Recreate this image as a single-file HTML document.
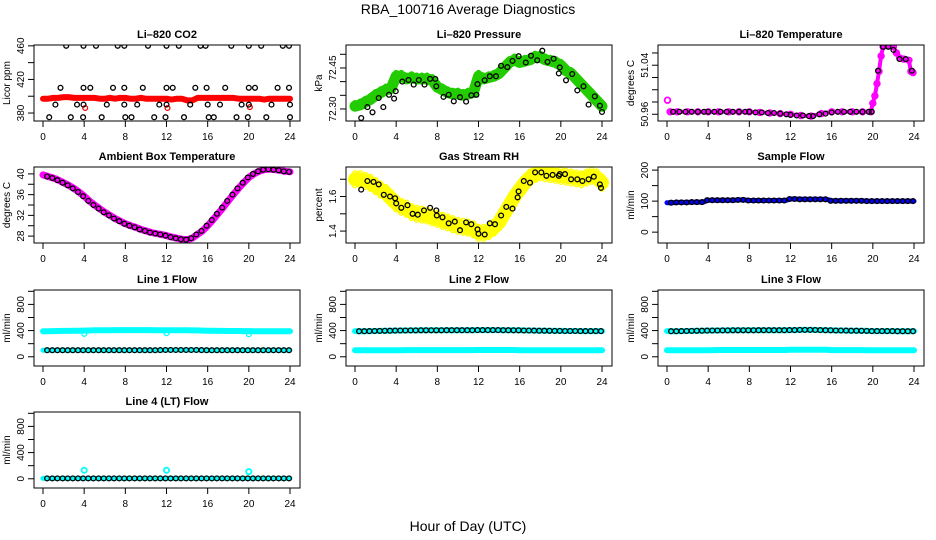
<!DOCTYPE html>
<html><head><meta charset="utf-8"><style>
html,body{margin:0;padding:0;background:#fff;}
svg{display:block;font-family:"Liberation Sans",sans-serif;}
</style></head><body>
<svg id="fig" width="936" height="540" viewBox="0 0 936 540">
<text x="468" y="14" font-size="14" text-anchor="middle">RBA_100716  Average Diagnostics</text>
<text x="468" y="531" font-size="14" text-anchor="middle">Hour of Day (UTC)</text>
</svg>
<script>
// ---- data ----
const halfHours = [0,0.5,1,1.5,2,2.5,3,3.5,4,4.5,5,5.5,6,6.5,7,7.5,8,8.5,9,9.5,10,10.5,11,11.5,12,12.5,13,13.5,14,14.5,15,15.5,16,16.5,17,17.5,18,18.5,19,19.5,20,20.5,21,21.5,22,22.5,23,23.5,24];
const hours = [0,1,2,3,4,5,6,7,8,9,10,11,12,13,14,15,16,17,18,19,20,21,22,23,24];
const xTicks = [0,4,8,12,16,20,24];

const co2Red = [397,397,398,398,399,399,398,398,398,398,398,397,397,398,397,398,398,397,397,398,397,397,397,397,397,396,397,397,395,395,398,398,398,398,398,398,398,398,397,397,397,397,397,396,397,397,397,397,397];
const co2BlackX = [2.25,3.94,5.15,7.26,7.9,10.2,12.0,13.2,15.3,15.8,18.3,20.0,21.2,23.3,23.9, 1.7,3.94,4.6,6.8,7.9,9.7,12.0,12.6,14.8,15.9,17.7,20.0,20.6,22.8,23.9, 1.2,3.3,3.94,6.2,7.9,9.15,11.3,12.0,14.3,16.0,17.2,19.3,20.0,22.2,24, 0.6,2.7,3.9,5.7,8.0,8.6,10.8,11.9,13.7,16.1,16.6,18.8,19.9,21.7,24];
const co2BlackY = [460,460,460,460,460,460,460,460,460,460,460,460,460,460,460, 410,410,410,410,410,410,410,410,410,410,410,410,410,410,410, 390,390,390,390,390,390,390,390,390,390,390,390,390,390,390, 375,375,375,375,375,375,375,375,375,375,375,375,375,375,375];

const presGreen = [72.31,72.315,72.325,72.335,72.35,72.36,72.37,72.375,72.42,72.42,72.41,72.415,72.41,72.41,72.41,72.405,72.38,72.37,72.36,72.355,72.355,72.35,72.355,72.36,72.42,72.41,72.415,72.42,72.43,72.45,72.47,72.48,72.47,72.475,72.48,72.49,72.49,72.48,72.475,72.47,72.46,72.44,72.43,72.41,72.39,72.37,72.35,72.33,72.31];
const presBlackX = [0.6,1.2,1.7,2.3,2.75,3.3,3.8,3.95,4.6,5.2,5.7,6.2,6.75,7.3,7.8,7.9,8.6,9.1,9.6,10.2,10.8,11.3,11.8,11.9,12.6,13.1,13.7,14.2,14.8,15.3,15.9,16.6,17.1,17.7,18.2,18.7,19.3,19.8,19.9,20.5,21.1,21.6,22.2,22.7,23.3,23.8,24];
const presBlackY = [72.267,72.307,72.288,72.34,72.307,72.352,72.338,72.365,72.40,72.406,72.389,72.406,72.389,72.41,72.41,72.383,72.344,72.352,72.328,72.343,72.327,72.35,72.352,72.391,72.405,72.42,72.42,72.458,72.453,72.476,72.493,72.47,72.495,72.478,72.513,72.472,72.484,72.43,72.452,72.405,72.428,72.368,72.383,72.316,72.346,72.312,72.289];

const tempX = [0.05,0.3,1,2,3,4,5,6,7,8,9,10,11,12,13,14,15,16,17,18,19,19.8,20,20.2,20.4,20.6,20.8,21,21.5,22,22.3,22.6,23,23.5,23.7,23.9];
const tempY = [50.983,50.964,50.964,50.964,50.964,50.964,50.964,50.964,50.964,50.964,50.963,50.962,50.961,50.960,50.958,50.957,50.961,50.964,50.964,50.964,50.964,50.964,50.978,50.99,51.01,51.03,51.055,51.07,51.072,51.07,51.06,51.052,51.05,51.048,51.03,51.028];
const tempBlackX = [0.6,1.2,1.8,2.4,3,3.6,4,4.6,5.2,5.8,6.4,7,7.6,8,8.6,9.2,9.8,10.4,11,11.6,12,12.6,13.2,13.8,14.2,14.8,15.4,16,16.6,17.2,17.8,18.4,19,19.6,19.9,20.5,21,21.5,22,22.6,23.2,23.8];
const tempBlackY = [50.964,50.964,50.964,50.964,50.964,50.964,50.964,50.964,50.964,50.964,50.964,50.964,50.964,50.964,50.963,50.963,50.962,50.962,50.961,50.96,50.959,50.958,50.958,50.957,50.957,50.96,50.961,50.963,50.964,50.964,50.964,50.964,50.964,50.964,50.964,51.031,51.07,51.07,51.065,51.05,51.05,51.031];

const ambient = [39.8,39.5,39.2,38.8,38.3,37.8,37.2,36.5,35.7,34.8,34.0,33.3,32.6,32.0,31.4,30.9,30.4,30.0,29.7,29.3,29.0,28.7,28.5,28.3,28.1,27.8,27.6,27.4,27.3,27.6,28.3,29.0,30.0,31.1,32.3,33.5,34.8,36.0,37.2,38.3,39.3,40.0,40.5,40.8,40.9,40.8,40.7,40.5,40.4];

const rhYellow = [1.70,1.70,1.69,1.68,1.66,1.64,1.62,1.59,1.56,1.54,1.53,1.51,1.50,1.495,1.49,1.48,1.47,1.46,1.45,1.44,1.43,1.425,1.42,1.41,1.39,1.39,1.40,1.42,1.45,1.50,1.55,1.60,1.64,1.68,1.71,1.73,1.74,1.735,1.73,1.725,1.72,1.715,1.71,1.705,1.70,1.71,1.72,1.71,1.68];
const rhBlackX = [0.6,1.2,1.8,2.3,2.8,3.4,3.9,4,4.5,5.1,5.6,6.1,6.7,7.3,7.9,7.95,8.5,9.1,9.7,10.2,10.8,11.3,11.9,12.0,12.6,13.1,13.6,14.2,14.7,15.3,15.8,15.9,16.4,17.0,17.5,18.1,18.6,19.2,19.8,19.9,20.4,21.0,21.6,22.1,22.7,23.2,23.8,23.9];
const rhBlackY = [1.64,1.69,1.685,1.67,1.61,1.60,1.59,1.56,1.535,1.55,1.50,1.495,1.52,1.535,1.52,1.49,1.48,1.445,1.455,1.405,1.45,1.44,1.41,1.385,1.38,1.445,1.44,1.49,1.54,1.53,1.595,1.63,1.69,1.68,1.74,1.74,1.72,1.725,1.72,1.73,1.73,1.70,1.70,1.69,1.70,1.715,1.67,1.65];

const sampleBlue = [95,95,96,96,96,97,97,97,103,103,103,103,103,103,104,104,102,102,102,102,102,102,102,102,107,107,106,106,106,106,106,106,101,101,101,101,101,101,101,100,100,100,100,100,100,100,100,100,100];

const line1Cyan = [390,390,392,393,395,395,398,398,400,402,404,404,405,406,407,407,408,408,408,408,408,408,406,405,405,405,405,404,404,403,403,400,398,396,395,395,394,394,393,392,392,391,391,390,390,390,390,390,390];
const line1Low = [100,100,100,100,100,100,100,100,100,100,100,100,100,100,101,101,101,101,101,101,101,101,101,102,104,104,104,104,103,103,103,102,101,101,101,101,101,101,101,100,100,100,100,100,100,100,100,100,100];
const line2High = [392,390,390,392,393,395,396,398,400,402,402,403,403,404,404,404,405,405,406,406,406,406,406,406,408,408,408,407,407,406,406,405,404,402,401,400,399,398,396,395,395,394,393,393,392,392,392,392,392];
const line2Low = [100,100,100,100,100,100,100,100,100,100,102,102,102,102,102,102,102,102,102,102,102,102,102,102,104,104,104,104,104,104,104,104,101,101,101,101,101,101,101,101,101,101,101,100,100,100,100,100,100];
const line3High = [392,390,390,392,393,395,396,398,400,402,402,403,403,404,404,404,405,405,406,406,406,406,406,406,408,408,410,410,410,409,408,406,404,402,401,400,399,398,396,395,392,392,392,392,392,391,391,391,391];
const line3Low = [100,100,100,100,100,100,100,100,100,102,103,103,103,103,103,103,103,103,103,103,103,103,103,103,106,106,107,107,107,107,106,106,102,102,102,102,102,102,102,101,101,101,101,101,101,100,100,100,100];
const line4Flow = [5,5,5,5,5,5,5,5,5,5,5,5,5,5,5,5,5,5,5,5,5,5,5,5,5,5,5,5,5,5,5,5,5,5,5,5,5,5,5,5,5,5,5,5,5,5,5,5,5];
const line4SpikeX = [4,12,20];
const line4SpikeY = [130,130,110];

// ---- layout ----
const NS = 'http://www.w3.org/2000/svg';
const svg = document.getElementById('fig');
const colLeft = [34,346,658];
const rowTop = [45,167,290,412];
const BW = 266, BH = 76;

function mk(tag, attrs, parent){
  const e = document.createElementNS(NS, tag);
  for (const k in attrs) e.setAttribute(k, attrs[k]);
  (parent||svg).appendChild(e);
  return e;
}

function panel(opt){
  const L = colLeft[opt.col], T = rowTop[opt.row];
  const g = mk('g', {});
  
  
  const xs = h => L + 9 + h/24*247;
  const ys = v => T + BH - (v - opt.ylim[0])/(opt.ylim[1]-opt.ylim[0])*BH;
  const clip = mk('clipPath', {id:'c'+opt.name}, g);
  mk('rect', {x:L, y:T, width:BW, height:BH}, clip);
  const plot = mk('g', {'clip-path':'url(#c'+opt.name+')'}, g);
  
  
  opt.draw(plot, xs, ys);
  const box = mk('rect', {x:L, y:T, width:BW, height:BH, fill:'none', stroke:'#000', 'stroke-width':1}, g);
  
  
  const title = mk('text', {x:L+BW/2, y:T-7, 'font-size':11, 'font-weight':'bold', 'text-anchor':'middle'}, g);
  title.textContent = opt.title;
  
  
  // x ticks
  xTicks.forEach(t => {
    mk('line', {x1:xs(t), x2:xs(t), y1:T+BH, y2:T+BH+6, stroke:'#000'}, g);
    const lb = mk('text', {x:xs(t), y:T+BH+19, 'font-size':10, 'text-anchor':'middle'}, g);
    lb.textContent = String(t);
    
    
  });
  // y ticks
  opt.yticks.forEach(v => {
    mk('line', {x1:L-6, x2:L, y1:ys(v), y2:ys(v), stroke:'#000'}, g);
  });
  opt.ylabels.forEach(v => {
    const lb = mk('text', {x:0, y:0, 'font-size':10, 'text-anchor':'middle', transform:`translate(${L-10},${ys(v)}) rotate(-90)`}, g);
    lb.textContent = opt.fmt ? opt.fmt(v) : String(v);
    
    
  });
  const yl = mk('text', {x:0, y:0, 'font-size':10, 'text-anchor':'middle', transform:`translate(${L-24},${T+BH/2}) rotate(-90)`}, g);
  yl.textContent = opt.ylab;
  
  
}

function band(parent, xsArr, ysArr, xs, ys, color, w){
  const pts = xsArr.map((x,i)=>xs(x).toFixed(1)+','+ys(ysArr[i]).toFixed(1)).join(' ');
  const pl = mk('polyline', {points:pts, fill:'none', stroke:color, 'stroke-width':w, 'stroke-linejoin':'round', 'stroke-linecap':'round'}, parent);
  
  
}
function circles(parent, xsArr, ysArr, xs, ys, color, r, sw){
  xsArr.forEach((x,i)=>{
    const c = mk('circle', {cx:xs(x).toFixed(1), cy:ys(ysArr[i]).toFixed(1), r:r||2.4, fill:'none', stroke:color, 'stroke-width':sw||1.3}, parent);
    
    
  });
}
const step = (a,n)=>a.filter((_,i)=>i%n===0);
const blackX = halfHours.slice(1).map(h=>h-0.1);

panel({name:'co2-panel', col:0,row:0,title:'Li\u2013820 CO2', ylab:'Licor ppm', ylim:[370.5,461], yticks:[380,400,420,440,460], ylabels:[380,420,460],
  draw:(p,xs,ys)=>{ band(p,halfHours,co2Red,xs,ys,'#ff0000',6); circles(p,[4.1,12.1,20.1],[386,386,387],xs,ys,'#ff0000');
    circles(p,co2BlackX,co2BlackY,xs,ys,'#000'); }});
panel({name:'pressure-panel', col:1,row:0,title:'Li\u2013820 Pressure', ylab:'kPa', ylim:[72.256,72.534], yticks:[72.30,72.35,72.40,72.45,72.50], ylabels:[72.30,72.45], fmt:v=>v.toFixed(2),
  draw:(p,xs,ys)=>{ band(p,halfHours,presGreen,xs,ys,'#22cc00',11); circles(p,halfHours,presGreen.map(v=>v+0.012),xs,ys,'#22cc00');
    circles(p,presBlackX,presBlackY,xs,ys,'#000'); }});
panel({name:'li820-temperature-panel', col:2,row:0,title:'Li\u2013820 Temperature', ylab:'degrees C', ylim:[50.949,51.073], yticks:[50.96,50.98,51.00,51.02,51.04,51.06], ylabels:[50.96,51.04], fmt:v=>v.toFixed(2),
  draw:(p,xs,ys)=>{ band(p,tempX.slice(1),tempY.slice(1),xs,ys,'#ff00ff',4); circles(p,tempX,tempY,xs,ys,'#ff00ff',2.8,1.8);
    circles(p,tempBlackX,tempBlackY,xs,ys,'#000'); }});
panel({name:'ambient-temperature-panel', col:0,row:1,title:'Ambient Box Temperature', ylab:'degrees C', ylim:[26.67,41.33], yticks:[28,30,32,34,36,38,40], ylabels:[28,32,36,40],
  draw:(p,xs,ys)=>{ band(p,halfHours,ambient,xs,ys,'#ff00ff',7); circles(p,blackX,ambient.slice(1),xs,ys,'#000'); }});
panel({name:'rh-panel', col:1,row:1,title:'Gas Stream RH', ylab:'percent', ylim:[1.331,1.771], yticks:[1.4,1.5,1.6,1.7], ylabels:[1.4,1.6], fmt:v=>v.toFixed(1),
  draw:(p,xs,ys)=>{ band(p,halfHours,rhYellow,xs,ys,'#ffff00',14); circles(p,halfHours,rhYellow.map(v=>v+0.035),xs,ys,'#ffff00'); circles(p,halfHours,rhYellow.map(v=>v-0.035),xs,ys,'#ffff00');
    circles(p,rhBlackX,rhBlackY,xs,ys,'#000'); }});
panel({name:'sample-flow-panel', col:2,row:1,title:'Sample Flow', ylab:'ml/min', ylim:[-35,210], yticks:[0,50,100,150,200], ylabels:[0,100,200],
  draw:(p,xs,ys)=>{ band(p,halfHours,sampleBlue,xs,ys,'#0000ff',5); circles(p,blackX,sampleBlue.slice(1),xs,ys,'#000'); }});
const flowTicks=[0,200,400,600,800,1000], flowLabels=[0,400,800], flowLim=[-141,1020];
panel({name:'line1-flow-panel', col:0,row:2,title:'Line 1 Flow', ylab:'ml/min', ylim:flowLim, yticks:flowTicks, ylabels:flowLabels,
  draw:(p,xs,ys)=>{ band(p,halfHours,line1Cyan,xs,ys,'#00ffff',6); band(p,halfHours,line1Low,xs,ys,'#00ffff',5);
    circles(p,[4,12,20],[350,360,345],xs,ys,'#00ffff'); circles(p,blackX,line1Low.slice(1),xs,ys,'#000'); }});
panel({name:'line2-flow-panel', col:1,row:2,title:'Line 2 Flow', ylab:'ml/min', ylim:flowLim, yticks:flowTicks, ylabels:flowLabels,
  draw:(p,xs,ys)=>{ band(p,halfHours,line2High,xs,ys,'#00ffff',6); band(p,halfHours,line2Low,xs,ys,'#00ffff',6);
    circles(p,blackX,line2High.slice(1),xs,ys,'#000'); }});
panel({name:'line3-flow-panel', col:2,row:2,title:'Line 3 Flow', ylab:'ml/min', ylim:flowLim, yticks:flowTicks, ylabels:flowLabels,
  draw:(p,xs,ys)=>{ band(p,halfHours,line3High,xs,ys,'#00ffff',6); band(p,halfHours,line3Low,xs,ys,'#00ffff',6);
    circles(p,blackX,line3High.slice(1),xs,ys,'#000'); }});
panel({name:'line4-flow-panel', col:0,row:3,title:'Line 4 (LT) Flow', ylab:'ml/min', ylim:flowLim, yticks:flowTicks, ylabels:flowLabels,
  draw:(p,xs,ys)=>{ band(p,halfHours,line4Flow,xs,ys,'#00ffff',5); circles(p,line4SpikeX,line4SpikeY,xs,ys,'#00ffff',2.6,1.8);
    circles(p,blackX,line4Flow.slice(1),xs,ys,'#000'); }});
</script>
</body></html>
